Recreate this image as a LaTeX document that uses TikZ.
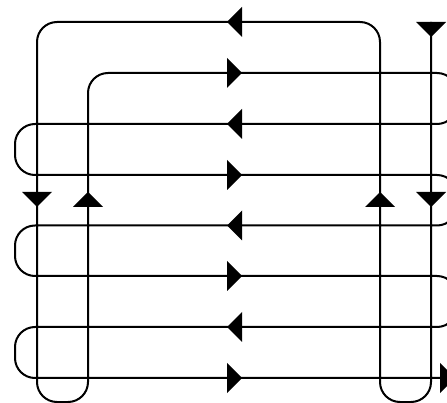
\documentclass[tikz,border=0pt]{standalone}
\usepackage{tikz}
\def\tri(#1,#2)(#3,#4){\fill ({#1+7.5*(#3)},{#2+7.5*(#4)}) -- ({#1-7.5*(#3)-15*(#4)},{#2-7.5*(#4)+15*(#3)}) -- ({#1-7.5*(#3)+15*(#4)},{#2-7.5*(#4)-15*(#3)}) -- cycle;}

\begin{document}
\begin{tikzpicture}[x=0.03cm, y=-0.03cm]
			%%%%% START %%%%%
			
			\useasboundingbox (0, 0) rectangle (447, 403);
			
			\draw[line width=0.6mm, rounded corners=0.6cm] (431, 22) -- (431, 402) -- (380, 402) -- (380, 22) -- (37, 22) -- (37, 402) -- (88, 402) -- (88, 73)
				-- (457, 73) -- (457, 124) -- (15, 124) -- (15, 175)
				-- (457, 175) -- (457, 225.5) -- (15, 225.5) -- (15, 276)
				-- (457, 276) -- (457, 327) -- (15, 327) -- (15, 378) -- (447, 378);
			
			\tri(431, 29.5)(0, 1);
			
			\tri(37, 199.5)(0, 1);
			\tri(88, 199.5)(0, -1);
			\tri(380, 199.5)(0, -1);
			\tri(431, 199.5)(0, 1);
			
			\tri(234.5, 22)(-1, 0);
			\tri(234.5, 73)(1, 0);
			\tri(234.5, 124)(-1, 0);
			\tri(234.5, 175)(1, 0);
			\tri(234.5, 225.5)(-1, 0);
			\tri(234.5, 276)(1, 0);
			\tri(234.5, 327)(-1, 0);
			\tri(234.5, 378)(1, 0);
			
			\tri(447.5, 378)(1, 0);
			
			%%%%% END %%%%%
\end{tikzpicture}
\end{document}
